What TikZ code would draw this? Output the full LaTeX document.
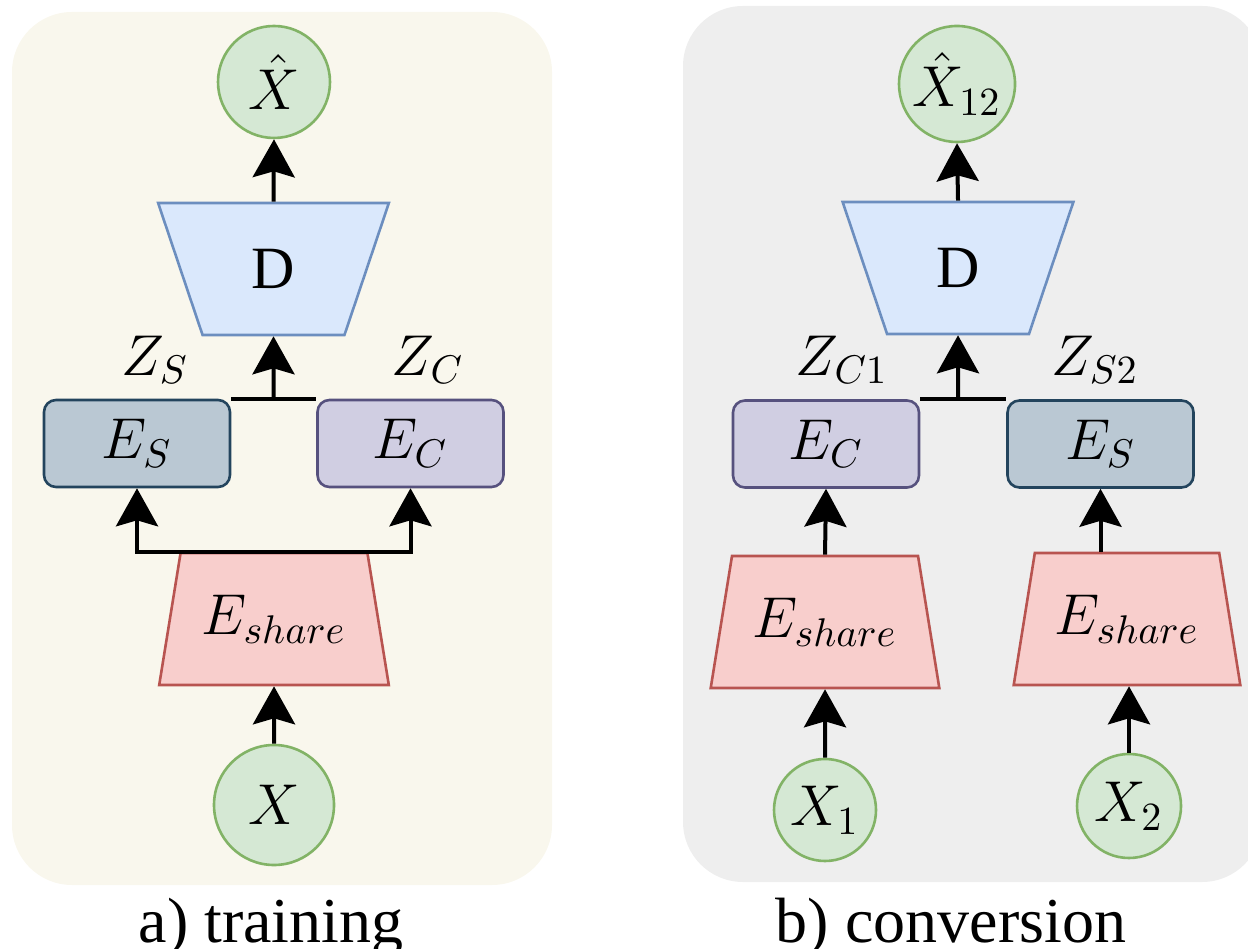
\documentclass[tikz,border=0pt]{standalone}
\usepackage{fontspec}
\newfontfamily\capfont{Liberation Serif}
\usetikzlibrary{shapes.geometric,arrows.meta}
\definecolor{gF}{HTML}{D5E8D4}
\definecolor{gD}{HTML}{82B366}
\definecolor{bF}{HTML}{DAE8FC}
\definecolor{bD}{HTML}{6C8EBF}
\definecolor{rF}{HTML}{F8CECC}
\definecolor{rD}{HTML}{B85450}
\definecolor{sF}{HTML}{BAC8D3}
\definecolor{sD}{HTML}{23445D}
\definecolor{pF}{HTML}{D0CEE2}
\definecolor{pD}{HTML}{56517E}
\definecolor{bgA}{HTML}{F9F7ED}
\definecolor{bgB}{HTML}{EEEEEE}
\tikzset{
  arr/.style={line width=1pt, -{Stealth[length=9.5pt,width=10.5pt,inset=1.5pt]}},
  lnk/.style={line width=1pt},
  circ/.style={circle, fill=gF, draw=gD, line width=0.65pt, inner sep=0pt},
  trapbase/.style={trapezium, trapezium left angle=71, trapezium right angle=71,
    trapezium stretches=true, minimum height=33pt, inner sep=0pt, line width=0.65pt},
  encsh/.style={trapbase, minimum width=57.5pt, fill=rF, draw=rD},
  dec/.style={trapbase, minimum width=57.75pt, shape border rotate=180, fill=bF, draw=bD,
    font=\capfont\fontsize{15}{18}\selectfont},
  boxS/.style={rectangle, rounded corners=3pt, minimum width=46.5pt, minimum height=21.75pt,
    fill=sF, draw=sD, line width=0.65pt, inner sep=0pt},
  boxC/.style={boxS, fill=pF, draw=pD},
  lbl/.style={inner sep=0pt},
  captxt/.style={font=\capfont\fontsize{16}{19}\selectfont, anchor=base, inner sep=0pt},
  panel/.style={rounded corners=15pt, draw=none}
}
\begin{document}
\begin{tikzpicture}[x=0.25pt,y=-0.25pt, font=\fontsize{14.4}{17}\selectfont]
\useasboundingbox (0,0) rectangle (1248,949);
% panels
\fill[panel, fill=bgA] (12,12) rectangle (552,885);
\fill[panel, fill=bgB] (683,6) rectangle (1262,882);

% ---------- a) training ----------
\node[circ, minimum size=28pt] (xh) at (274,82) {$\hat{X}$};
\node[dec] (d1) at (273.5,269) {D};
\node[lbl] (zs) at (155,360) {$Z_S$};
\node[lbl] (zc) at (428,360) {$Z_C$};
\node[boxS] (es1) at (137,443.5) {$E_S$};
\node[boxC] (ec1) at (410.5,443.5) {$E_C$};
\node[encsh] (sh1) at (274,619) {$E_{share}$};
\node[circ, minimum size=30pt] (x) at (274,805) {$X$};
\coordinate (bus1) at (273.5,400);
\draw[lnk] (es1.north east) -- (ec1.north west);
\draw[arr] (bus1) -- (d1.south);
\draw[arr] (d1.north) -- (xh.south);
\draw[arr] (sh1.north) -| (es1.south);
\draw[arr] (sh1.north) -| (ec1.south);
\draw[arr] (x.north) -- (sh1.south);
\node[captxt] (capa) at (271,942) {a) training};

% ---------- b) conversion ----------
\node[circ, minimum size=29pt] (xh12) at (957,84) {$\hat{X}_{12}$};
\node[dec] (d2) at (958,268) {D};
\node[lbl] (zc1) at (842,360) {$Z_{C1}$};
\node[lbl] (zs2) at (1095,360) {$Z_{S2}$};
\node[boxC] (ec2) at (826,444) {$E_C$};
\node[boxS] (es2) at (1100.5,444) {$E_S$};
\node[encsh, minimum width=57.25pt] (sh2) at (825,622) {$E_{share}$};
\node[encsh, minimum width=56.75pt] (sh3) at (1127,619) {$E_{share}$};
\node[circ, minimum size=25.5pt] (x1) at (825,810) {$X_1$};
\node[circ, minimum size=26pt] (x2) at (1129,806) {$X_2$};
\coordinate (bus2) at (958,400);
\draw[lnk] (ec2.north east) -- (es2.north west);
\draw[arr] (bus2) -- (d2.south);
\draw[arr] (d2.north) -- (xh12.south);
\draw[arr] (sh2.north) -- (ec2.south);
\draw[arr] (es2.south |- sh3.north) -- (es2.south);
\draw[arr] (x1.north) -- (sh2.south);
\draw[arr] (x2.north) -- (x2.north |- sh3.south);
\node[captxt] (capb) at (951,942) {b) conversion};
\end{tikzpicture}
\end{document}
